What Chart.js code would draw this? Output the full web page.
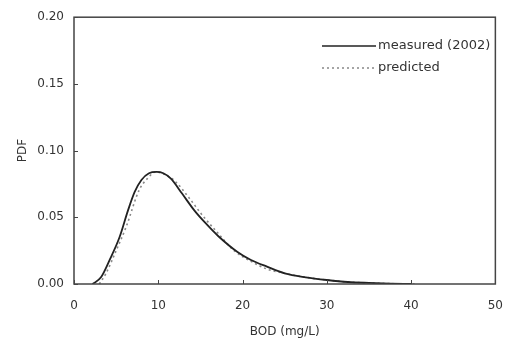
<!DOCTYPE html>
<html>
<head>
<meta charset="utf-8">
<script src="https://cdn.jsdelivr.net/npm/chart.js@4.4.0/dist/chart.umd.min.js"></script>
<style>
  html, body { margin: 0; padding: 0; background: #fff; }
  #wrap { width: 518px; height: 343px; position: relative; }
</style>
</head>
<body>
<div id="wrap"><canvas id="myChart"></canvas></div>
<script>
// BOD (mg/L) vs PDF
const bodMeasured = [2.2, 3.2, 4.3, 5.4, 6.4, 7.2, 8.0, 8.9, 9.8, 10.6, 11.5, 12.8, 14.3, 15.7, 17.1, 19.4, 21.0, 22.9, 25.0, 27.5, 30.0, 32.5, 35.0, 37.5, 40.0];
const pdfMeasured = [0, 0.005, 0.019, 0.035, 0.055, 0.069, 0.078, 0.083, 0.084, 0.083, 0.079, 0.068, 0.055, 0.045, 0.036, 0.024, 0.018, 0.013, 0.008, 0.005, 0.003, 0.0015, 0.0008, 0.0003, 0];

const bodPredicted = [3.0, 3.8, 5.0, 6.2, 7.7, 8.7, 9.7, 10.8, 12.0, 13.6, 15.3, 17.1, 19.0, 21.0, 23.0, 25.0, 27.5, 30.0, 32.5, 35.0, 37.5, 40.5];
const pdfPredicted = [0, 0.008, 0.025, 0.043, 0.070, 0.079, 0.084, 0.082, 0.077, 0.065, 0.051, 0.038, 0.025, 0.017, 0.011, 0.008, 0.005, 0.003, 0.0015, 0.0008, 0.0003, 0];

const xTicks = [0, 10, 20, 30, 40, 50];
const yTicks = [0, 0.05, 0.10, 0.15, 0.20];

const font = "'DejaVu Sans', sans-serif";

function toPoints(xs, ys) {
  return xs.map((x, i) => ({ x: x, y: ys[i] }));
}

// frame + inward ticks + legend inside plot
const framePlugin = {
  id: "frame",
  afterDraw(chart) {
    const c = chart.ctx;
    const a = chart.chartArea;
    const xs = chart.scales.x;
    const ys = chart.scales.y;
    c.save();
    c.strokeStyle = "#444";
    c.lineWidth = 1.5;
    c.strokeRect(a.left, a.top, a.right - a.left, a.bottom - a.top);
    c.lineWidth = 1;
    xTicks.forEach((v) => {
      const px = Math.round(xs.getPixelForValue(v)) + 0.5;
      c.beginPath();
      c.moveTo(px, a.bottom);
      c.lineTo(px, a.bottom - 4);
      c.stroke();
    });
    yTicks.forEach((v) => {
      const py = Math.round(ys.getPixelForValue(v)) + 0.5;
      c.beginPath();
      c.moveTo(a.left, py);
      c.lineTo(a.left + 4, py);
      c.stroke();
    });

    // legend
    const lx = 322;
    const ly = 46;
    c.font = "13px " + font;
    c.fillStyle = "#333";
    c.textBaseline = "middle";
    c.strokeStyle = "#222";
    c.lineWidth = 1.5;
    c.beginPath();
    c.moveTo(lx, ly);
    c.lineTo(lx + 54, ly);
    c.stroke();
    c.fillText("measured (2002)", lx + 56, ly);
    c.strokeStyle = "#888";
    c.setLineDash([2, 3]);
    c.beginPath();
    c.moveTo(lx, ly + 22);
    c.lineTo(lx + 54, ly + 22);
    c.stroke();
    c.setLineDash([]);
    c.fillText("predicted", lx + 56, ly + 22);
    c.restore();
  },
};

const ctx = document.getElementById("myChart");

new Chart(ctx, {
  type: "line",
  data: {
    datasets: [
      {
        label: "measured (2002)",
        data: toPoints(bodMeasured, pdfMeasured),
        borderColor: "#222",
        borderWidth: 1.8,
        pointRadius: 0,
        cubicInterpolationMode: "monotone",
      },
      {
        label: "predicted",
        data: toPoints(bodPredicted, pdfPredicted),
        borderColor: "#888",
        borderWidth: 1.6,
        borderDash: [2, 3],
        pointRadius: 0,
        cubicInterpolationMode: "monotone",
      },
    ],
  },
  options: {
    responsive: true,
    maintainAspectRatio: false,
    animation: false,
    layout: { padding: { top: 15, right: 16, left: 0, bottom: 0 } },
    plugins: {
      legend: { display: false },
      tooltip: { enabled: false },
    },
    scales: {
      x: {
        type: "linear",
        min: 0,
        max: 50,
        afterBuildTicks: (s) => { s.ticks = xTicks.map((v) => ({ value: v })); },
        afterFit: (s) => { s.height = 59; },
        grid: { display: false, drawTicks: false },
        border: { display: false },
        ticks: {
          color: "#333",
          padding: 15,
          font: { family: font, size: 12 },
          callback: (v) => v,
        },
        title: {
          display: true,
          text: "BOD (mg/L)",
          color: "#333",
          padding: { top: 7 },
          font: { family: font, size: 12 },
        },
      },
      y: {
        min: 0,
        max: 0.2,
        afterBuildTicks: (s) => { s.ticks = yTicks.map((v) => ({ value: v })); },
        afterFit: (s) => { s.width = 74; },
        grid: { display: false, drawTicks: false },
        border: { display: false },
        ticks: {
          color: "#333",
          padding: 10,
          font: { family: font, size: 12 },
          callback: (v) => v.toFixed(2),
        },
        title: {
          display: true,
          text: "PDF",
          color: "#333",
          padding: { top: 16, bottom: 0 },
          font: { family: font, size: 12 },
        },
      },
    },
  },
  plugins: [framePlugin],
});
</script>
</body>
</html>
